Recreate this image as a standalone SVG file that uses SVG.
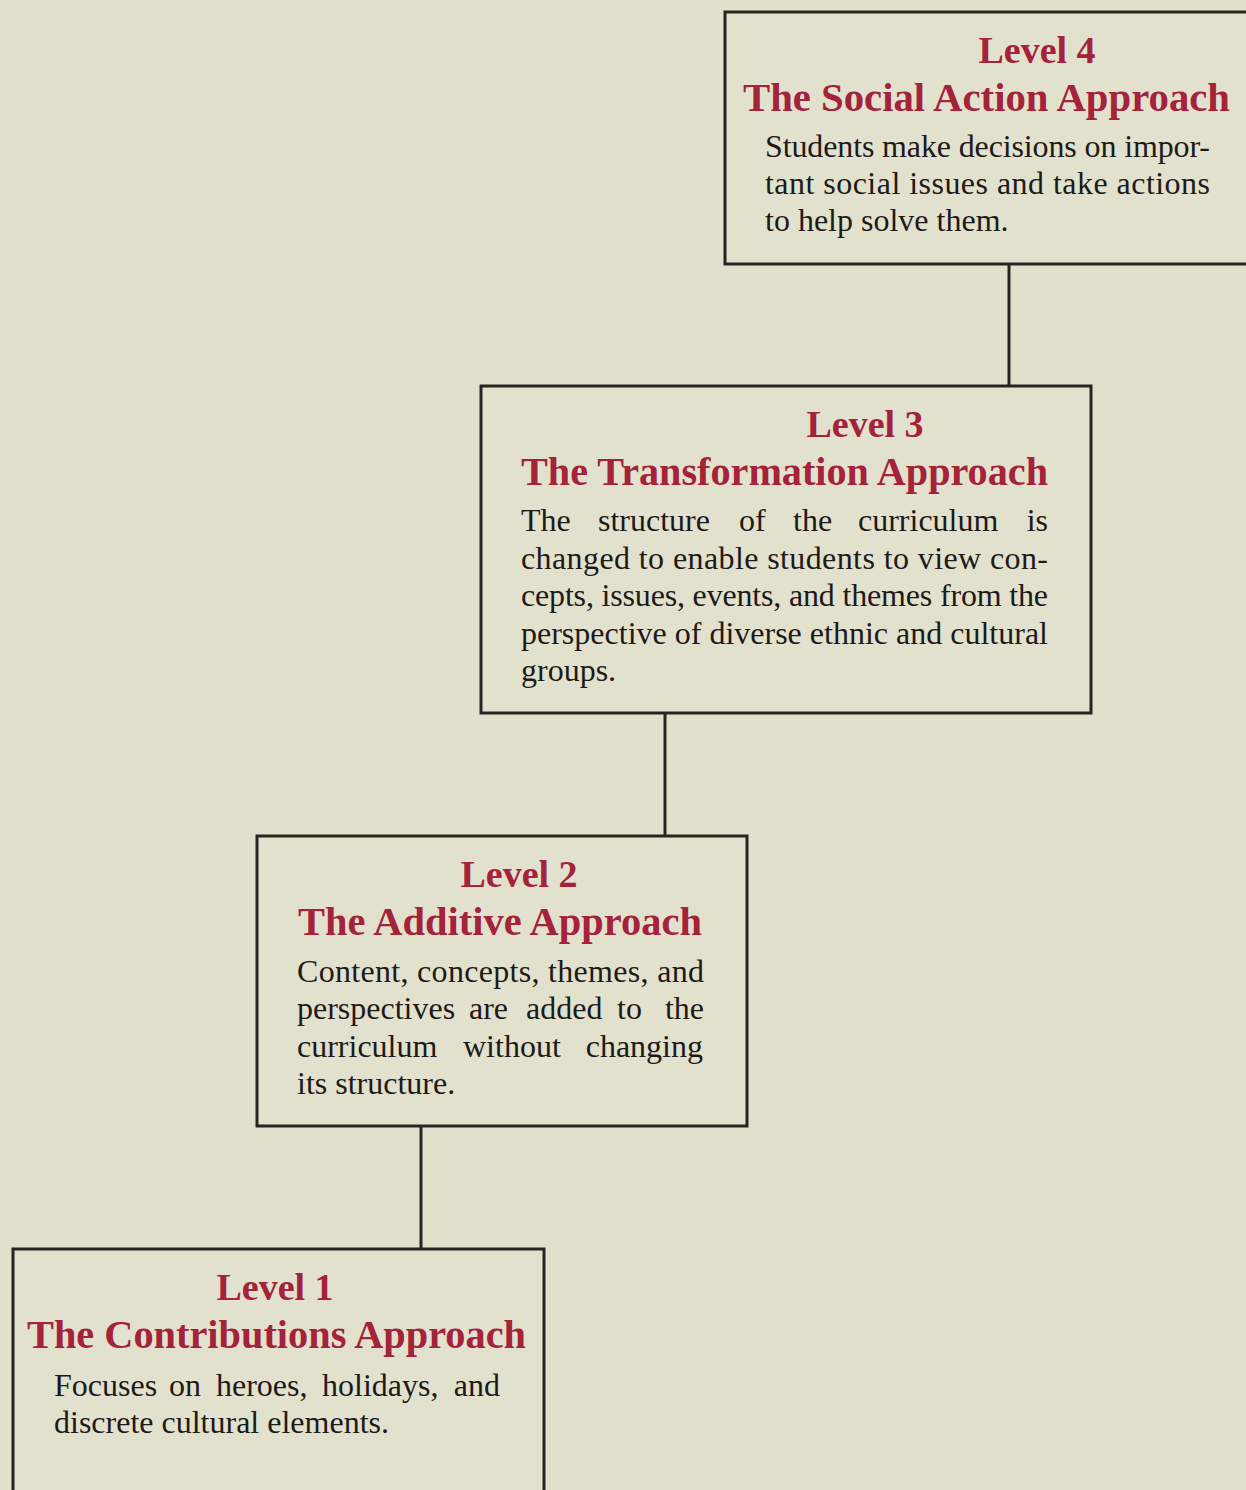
<svg xmlns="http://www.w3.org/2000/svg" width="1246" height="1490" viewBox="0 0 1246 1490">
<style>
.box{fill:#e2e1ce;stroke:#2a2220;stroke-width:3}
.conn{stroke:#2a2220;stroke-width:3;fill:none}
.lvl{font-family:"Liberation Serif","Times New Roman",serif;font-weight:bold;font-size:38px;fill:#a4223a;text-anchor:middle}
.ttl{font-family:"Liberation Serif","Times New Roman",serif;font-weight:bold;font-size:39px;fill:#a4223a}
.body{font-family:"Liberation Serif","Times New Roman",serif;font-size:32px;fill:#1e1a18}
.end{text-anchor:end}
</style>
<rect x="0" y="0" width="1246" height="1490" fill="#e1e0cd"/>
<g id="connectors">
<line class="conn" x1="1009" y1="264" x2="1009" y2="386"/>
<line class="conn" x1="665" y1="713" x2="665" y2="836"/>
<line class="conn" x1="421" y1="1126" x2="421" y2="1249"/>
</g>
<g id="level4">
<rect class="box" x="725" y="12" width="530" height="252"/>
<text class="lvl" x="1037" y="63">Level 4</text>
<text class="ttl" x="743" y="111" textLength="487" lengthAdjust="spacingAndGlyphs">The Social Action Approach</text>
<text class="body" x="765" y="157" textLength="445" lengthAdjust="spacing">Students make decisions on impor-</text>
<text class="body" x="765" y="194" textLength="445" lengthAdjust="spacing">tant social issues and take actions</text>
<text class="body" x="765" y="231">to help solve them.</text>
</g>
<g id="level3">
<rect class="box" x="481" y="386" width="610" height="327"/>
<text class="lvl" x="865" y="437">Level 3</text>
<text class="ttl" x="521" y="485" textLength="527" lengthAdjust="spacingAndGlyphs">The Transformation Approach</text>
<text class="body" y="531"><tspan x="521">The</tspan><tspan x="598">structure</tspan><tspan x="739">of</tspan><tspan x="793">the</tspan><tspan x="858">curriculum</tspan></text>
<text class="body end" x="1048" y="531">is</text>
<text class="body" x="521" y="569" textLength="527" lengthAdjust="spacing">changed to enable students to view con-</text>
<text class="body" x="521" y="606" textLength="527" lengthAdjust="spacing">cepts, issues, events, and themes from the</text>
<text class="body" x="521" y="644" textLength="527" lengthAdjust="spacing">perspective of diverse ethnic and cultural</text>
<text class="body" x="521" y="681">groups.</text>
</g>
<g id="level2">
<rect class="box" x="257" y="836" width="490" height="290"/>
<text class="lvl" x="519" y="887">Level 2</text>
<text class="ttl" x="298" y="935" textLength="404" lengthAdjust="spacingAndGlyphs">The Additive Approach</text>
<text class="body" x="297" y="982" textLength="407" lengthAdjust="spacing">Content, concepts, themes, and</text>
<text class="body" y="1019"><tspan x="297">perspectives</tspan><tspan x="469">are</tspan><tspan x="526">added</tspan><tspan x="617">to</tspan></text>
<text class="body end" x="704" y="1019">the</text>
<text class="body" y="1057"><tspan x="297">curriculum</tspan><tspan x="463">without</tspan></text>
<text class="body end" x="703" y="1057">changing</text>
<text class="body" x="297" y="1094">its structure.</text>
</g>
<g id="level1">
<rect class="box" x="13" y="1249" width="531" height="260"/>
<text class="lvl" x="275" y="1300">Level 1</text>
<text class="ttl" x="27" y="1348" textLength="499" lengthAdjust="spacingAndGlyphs">The Contributions Approach</text>
<text class="body" y="1396"><tspan x="54">Focuses</tspan><tspan x="169">on</tspan><tspan x="216">heroes,</tspan><tspan x="322">holidays,</tspan></text>
<text class="body end" x="500" y="1396">and</text>
<text class="body" x="54" y="1433">discrete cultural elements.</text>
</g>
</svg>
